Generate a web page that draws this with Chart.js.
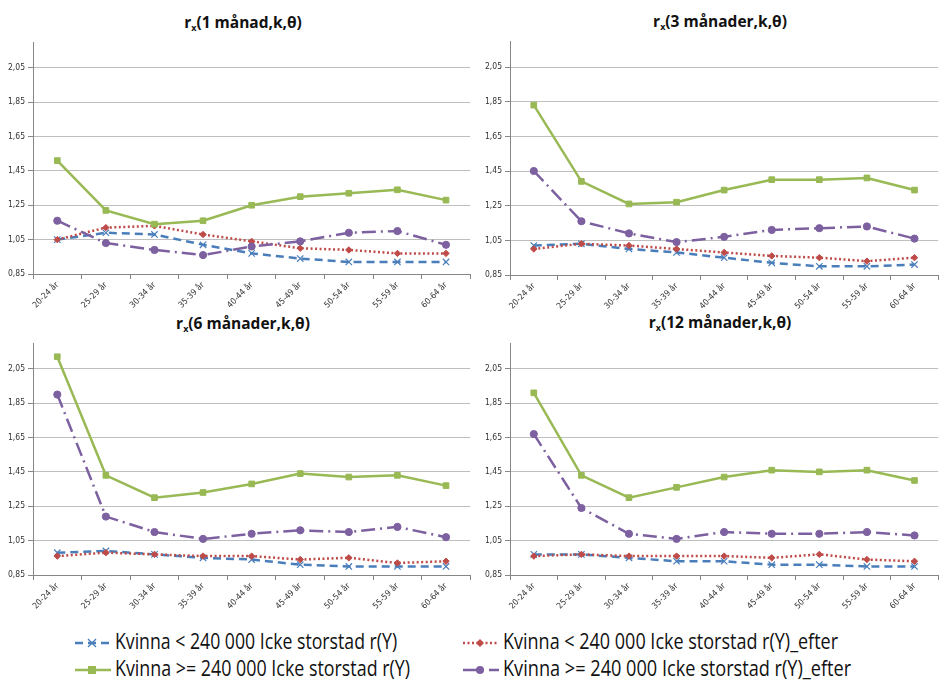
<!DOCTYPE html>
<html>
<head>
<meta charset="utf-8">
<script src="https://cdn.jsdelivr.net/npm/chart.js@4.4.1/dist/chart.umd.min.js"></script>
<style>
  body { margin: 0; background: #fff; width: 944px; height: 680px; position: relative; overflow: hidden; font-family: "Open Sans", "DejaVu Sans", sans-serif; }
  canvas { position: absolute; }
  .title { position: absolute; width: 300px; text-align: center; font: bold 15.5px "Open Sans", "DejaVu Sans", sans-serif; color: #111; line-height: 18px; }
  .title sub { font-size: 9px; vertical-align: -3px; }
  .legend { position: absolute; font-size: 21px; color: #111; white-space: nowrap; line-height: 24px; }
  .legend .txt { position: absolute; left: 40px; top: 0; transform-origin: 0 50%; }
</style>
</head>
<body>

<div class="title" style="left:93px;top:13px">r<sub>x</sub>(1 månad,k,θ)</div>
<div class="title" style="left:570px;top:12px">r<sub>x</sub>(3 månader,k,θ)</div>
<div class="title" style="left:93px;top:314px">r<sub>x</sub>(6 månader,k,θ)</div>
<div class="title" style="left:570px;top:313px">r<sub>x</sub>(12 månader,k,θ)</div>

<canvas id="c1" width="476" height="312" style="left:0;top:0"></canvas>
<canvas id="c2" width="467" height="312" style="left:477px;top:0"></canvas>
<canvas id="c3" width="476" height="312" style="left:0;top:301px"></canvas>
<canvas id="c4" width="467" height="312" style="left:477px;top:301px"></canvas>

<div id="legend"></div>

<script>
const categories = ["20-24 år", "25-29 år", "30-34 år", "35-39 år", "40-44 år", "45-49 år", "50-54 år", "55-59 år", "60-64 år"];
const seriesNames = [
  "Kvinna < 240 000 Icke storstad r(Y)",
  "Kvinna < 240 000 Icke storstad r(Y)_efter",
  "Kvinna >= 240 000 Icke storstad r(Y)",
  "Kvinna >= 240 000 Icke storstad r(Y)_efter"
];
const yTicks = [0.85, 1.05, 1.25, 1.45, 1.65, 1.85, 2.05];
const yTickLabels = ["0,85", "1,05", "1,25", "1,45", "1,65", "1,85", "2,05"];

// 1 månad
const m1Under = [1.05, 1.09, 1.08, 1.02, 0.97, 0.94, 0.92, 0.92, 0.92];
const m1UnderEfter = [1.05, 1.12, 1.13, 1.08, 1.04, 1.00, 0.99, 0.97, 0.97];
const m1Over = [1.51, 1.22, 1.14, 1.16, 1.25, 1.30, 1.32, 1.34, 1.28];
const m1OverEfter = [1.16, 1.03, 0.99, 0.96, 1.01, 1.04, 1.09, 1.10, 1.02];

// 3 månader
const m3Under = [1.02, 1.03, 1.00, 0.98, 0.95, 0.92, 0.90, 0.90, 0.91];
const m3UnderEfter = [1.00, 1.03, 1.02, 1.00, 0.98, 0.96, 0.95, 0.93, 0.95];
const m3Over = [1.83, 1.39, 1.26, 1.27, 1.34, 1.40, 1.40, 1.41, 1.34];
const m3OverEfter = [1.45, 1.16, 1.09, 1.04, 1.07, 1.11, 1.12, 1.13, 1.06];

// 6 månader
const m6Under = [0.98, 0.99, 0.97, 0.95, 0.94, 0.91, 0.90, 0.90, 0.90];
const m6UnderEfter = [0.96, 0.98, 0.97, 0.96, 0.96, 0.94, 0.95, 0.92, 0.93];
const m6Over = [2.12, 1.43, 1.30, 1.33, 1.38, 1.44, 1.42, 1.43, 1.37];
const m6OverEfter = [1.90, 1.19, 1.10, 1.06, 1.09, 1.11, 1.10, 1.13, 1.07];

// 12 månader
const m12Under = [0.97, 0.97, 0.95, 0.93, 0.93, 0.91, 0.91, 0.90, 0.90];
const m12UnderEfter = [0.96, 0.97, 0.96, 0.96, 0.96, 0.95, 0.97, 0.94, 0.93];
const m12Over = [1.91, 1.43, 1.30, 1.36, 1.42, 1.46, 1.45, 1.46, 1.40];
const m12OverEfter = [1.67, 1.24, 1.09, 1.06, 1.10, 1.09, 1.09, 1.10, 1.08];

const styles = [
  { color: "#4A7EBB", dash: [8, 5], point: "crossRot", radius: 4.5, order: 4 },
  { color: "#BE4B48", dash: [2, 2.5], point: "rectRot", radius: 3.2, order: 3 },
  { color: "#98B954", dash: [], point: "rect", radius: 4, order: 2 },
  { color: "#7D60A0", dash: [14, 5, 2, 5], point: "circle", radius: 3.6, order: 1 }
];

const tickFont = { family: "'DejaVu Sans Condensed', 'Liberation Sans', sans-serif", size: 8.5 };

function makeDatasets(seriesList) {
  return seriesList.map((data, i) => ({
    label: seriesNames[i],
    data: data,
    borderColor: styles[i].color,
    backgroundColor: styles[i].color,
    borderWidth: 2.5,
    borderDash: styles[i].dash,
    pointStyle: styles[i].point,
    pointRadius: styles[i].radius,
    pointBorderWidth: i === 0 ? 1.2 : 1,
    pointBorderColor: styles[i].color,
    pointBackgroundColor: styles[i].color,
    order: styles[i].order,
    tension: 0
  }));
}

function makeChart(id, seriesList, top, right) {
  new Chart(document.getElementById(id), {
    type: "line",
    data: { labels: categories, datasets: makeDatasets(seriesList) },
    options: {
      responsive: false,
      animation: false,
      devicePixelRatio: 1,
      layout: { padding: { top: top, right: right, left: 0, bottom: 0 } },
      plugins: { legend: { display: false }, tooltip: { enabled: false } },
      scales: {
        x: {
          offset: true,
          grid: { display: true, drawOnChartArea: false, offset: true, tickLength: 5, tickColor: "#868686" },
          border: { color: "#868686", width: 1 },
          ticks: { font: tickFont, color: "#333", maxRotation: 45, minRotation: 45, autoSkip: false, padding: 1 },
          afterFit: s => { s.height = 312 - 274 + (top - 42); }
        },
        y: {
          min: 0.85,
          max: 2.2,
          afterBuildTicks: s => { s.ticks = yTicks.map(v => ({ value: v })); },
          grid: { color: "#BFBFBF", lineWidth: 1, tickLength: 5, tickColor: "#868686" },
          border: { color: "#868686", width: 1 },
          ticks: {
            font: tickFont, color: "#333", padding: 3,
            callback: (v) => yTickLabels[yTicks.findIndex(t => Math.abs(t - v) < 1e-6)]
          },
          afterFit: s => { s.width = 33; }
        }
      }
    }
  });
}

makeChart("c1", [m1Under, m1UnderEfter, m1Over, m1OverEfter], 42, 3);
makeChart("c2", [m3Under, m3UnderEfter, m3Over, m3OverEfter], 41, 0);
makeChart("c3", [m6Under, m6UnderEfter, m6Over, m6OverEfter], 42, 3);
makeChart("c4", [m12Under, m12UnderEfter, m12Over, m12OverEfter], 42, 0);

// shared legend below the four panels
function symbolSvg(i) {
  const s = styles[i];
  const dash = s.dash.length ? `stroke-dasharray="${s.dash.join(",")}"` : "";
  let mark = "";
  if (s.point === "crossRot") mark = `<path d="M13,5 L21,13 M21,5 L13,13" stroke="${s.color}" stroke-width="1.3"/>`;
  if (s.point === "rectRot") mark = `<path d="M17,5 L21,9 L17,13 L13,9 Z" fill="${s.color}"/>`;
  if (s.point === "rect") mark = `<rect x="13" y="5" width="8" height="8" fill="${s.color}"/>`;
  if (s.point === "circle") mark = `<circle cx="17" cy="9" r="4" fill="${s.color}"/>`;
  return `<svg width="36" height="18" viewBox="0 0 36 18"><line x1="0" y1="9" x2="36" y2="9" stroke="${s.color}" stroke-width="2.5" ${dash}/>${mark}</svg>`;
}

const legendPos = [
  { x: 75, y: 641, w: 282 }, { x: 463, y: 641, w: 335 },
  { x: 75, y: 668, w: 295 }, { x: 463, y: 668, w: 348 }
];
const legend = document.getElementById("legend");
seriesNames.forEach((name, k) => {
  const p = legendPos[k];
  const item = document.createElement("div");
  item.className = "legend";
  item.style.left = p.x + "px";
  item.style.top = (p.y - 12) + "px";
  item.innerHTML = `<span style="position:absolute;left:0;top:3px">${symbolSvg(k)}</span><span class="txt">${name}</span>`;
  legend.appendChild(item);
  // the original uses a narrow font; squeeze the text to the same width
  const txt = item.querySelector(".txt");
  const w = txt.getBoundingClientRect().width;
  txt.style.transform = `scaleX(${(p.w / w).toFixed(3)})`;
});
</script>
</body>
</html>
